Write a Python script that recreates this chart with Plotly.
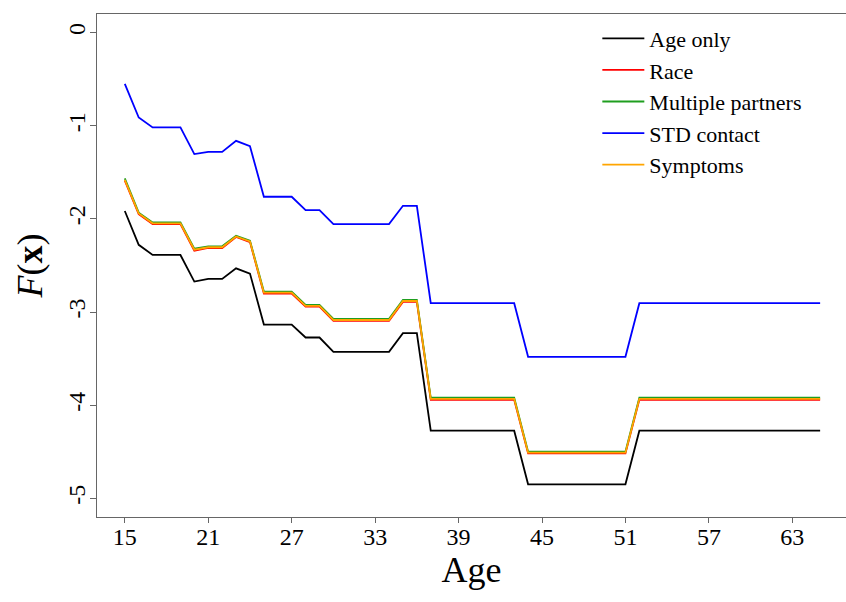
import plotly.graph_objects as go

ages = list(range(15, 66))

age_only = [-1.915, -2.278, -2.387, -2.387, -2.387, -2.673, -2.644, -2.644, -2.530, -2.587,
            -3.134, -3.134, -3.134, -3.273, -3.273, -3.427, -3.427, -3.427, -3.427, -3.427,
            -3.226, -3.226, -4.273, -4.273, -4.273, -4.273, -4.273, -4.273, -4.273,
            -4.849, -4.849, -4.849, -4.849, -4.849, -4.849, -4.849, -4.849,
            -4.273, -4.273, -4.273, -4.273, -4.273, -4.273, -4.273, -4.273, -4.273, -4.273,
            -4.273, -4.273, -4.273, -4.273]

race = [-1.590, -1.950, -2.055, -2.055, -2.055, -2.341, -2.312, -2.312, -2.194, -2.248,
        -2.802, -2.802, -2.802, -2.941, -2.941, -3.094, -3.094, -3.094, -3.094, -3.094,
        -2.891, -2.891, -3.941, -3.941, -3.941, -3.941, -3.941, -3.941, -3.941,
        -4.517, -4.517, -4.517, -4.517, -4.517, -4.517, -4.517, -4.517,
        -3.941, -3.941, -3.941, -3.941, -3.941, -3.941, -3.941, -3.941, -3.941, -3.941,
        -3.941, -3.941, -3.941, -3.941]

multiple_partners = [-1.565, -1.933, -2.037, -2.037, -2.037, -2.319, -2.294, -2.294, -2.180, -2.233,
                     -2.780, -2.780, -2.780, -2.923, -2.923, -3.073, -3.073, -3.073, -3.073, -3.073,
                     -2.869, -2.869, -3.920, -3.920, -3.920, -3.920, -3.920, -3.920, -3.920,
                     -4.498, -4.498, -4.498, -4.498, -4.498, -4.498, -4.498, -4.498,
                     -3.920, -3.920, -3.920, -3.920, -3.920, -3.920, -3.920, -3.920, -3.920, -3.920,
                     -3.920, -3.920, -3.920, -3.920]

std_contact = [-0.551, -0.911, -1.018, -1.018, -1.018, -1.304, -1.280, -1.280, -1.162, -1.219,
               -1.762, -1.762, -1.762, -1.905, -1.905, -2.055, -2.055, -2.055, -2.055, -2.055,
               -1.859, -1.859, -2.905, -2.905, -2.905, -2.905, -2.905, -2.905, -2.905,
               -3.480, -3.480, -3.480, -3.480, -3.480, -3.480, -3.480, -3.480,
               -2.905, -2.905, -2.905, -2.905, -2.905, -2.905, -2.905, -2.905, -2.905, -2.905,
               -2.905, -2.905, -2.905, -2.905]

symptoms = [-1.580, -1.942, -2.047, -2.047, -2.047, -2.331, -2.304, -2.304, -2.188, -2.241,
            -2.792, -2.792, -2.792, -2.933, -2.933, -3.085, -3.085, -3.085, -3.085, -3.085,
            -2.881, -2.881, -3.932, -3.932, -3.932, -3.932, -3.932, -3.932, -3.932,
            -4.509, -4.509, -4.509, -4.509, -4.509, -4.509, -4.509, -4.509,
            -3.932, -3.932, -3.932, -3.932, -3.932, -3.932, -3.932, -3.932, -3.932, -3.932,
            -3.932, -3.932, -3.932, -3.932]

series_names = ["Age only", "Race", "Multiple partners", "STD contact", "Symptoms"]
series_values = [age_only, race, multiple_partners, std_contact, symptoms]
series_colors = ["#000000", "#ff0000", "#1f9e1f", "#0000ff", "#ffa500"]

x_tick_values = [15, 21, 27, 33, 39, 45, 51, 57, 63]
y_tick_values = [0, -1, -2, -3, -4, -5]
y_tick_labels = ["0", "-1", "-2", "-3", "-4", "-5"]

FONT = "Liberation Serif"

fig = go.Figure()
for name, vals, col in zip(series_names, series_values, series_colors):
    fig.add_trace(go.Scatter(x=ages, y=vals, mode="lines", name=name,
                             line=dict(color=col, width=1.8)))

fig.update_layout(
    width=846, height=602,
    paper_bgcolor="white", plot_bgcolor="white",
    margin=dict(l=97, r=0, t=14, b=85),
    font=dict(family=FONT, color="black", size=24),
    showlegend=True,
    legend=dict(x=0.668, y=0.993, xanchor="left", yanchor="top",
                bgcolor="rgba(0,0,0,0)", borderwidth=0, itemwidth=42,
                font=dict(family=FONT, size=22), tracegroupgap=0),
)
fig.update_xaxes(
    range=[13, 66.86], tickvals=x_tick_values, ticktext=[str(v) for v in x_tick_values],
    showgrid=False, zeroline=False, showline=True, linecolor="#666666", linewidth=1,
    mirror=True, ticks="outside", ticklen=5, tickcolor="#666666",
    tickfont=dict(family=FONT, size=24), ticklabelstandoff=-7,
    title=dict(text="Age", font=dict(family=FONT, size=36), standoff=8),
)
fig.update_yaxes(
    range=[-5.2, 0.2], tickvals=y_tick_values, ticktext=y_tick_labels, tickangle=-90,
    showgrid=False, zeroline=False, showline=True, linecolor="#666666", linewidth=1,
    mirror=True, ticks="outside", ticklen=6, tickcolor="#666666",
    tickfont=dict(family=FONT, size=24), ticklabelstandoff=-5,
    title=dict(text="<i>F</i>(<b>x</b>)", font=dict(family=FONT, size=36), standoff=10),
)

fig.write_html("out.html", config={"displayModeBar": False},
               post_script="document.body.style.margin='0';document.body.style.overflow='hidden';")
